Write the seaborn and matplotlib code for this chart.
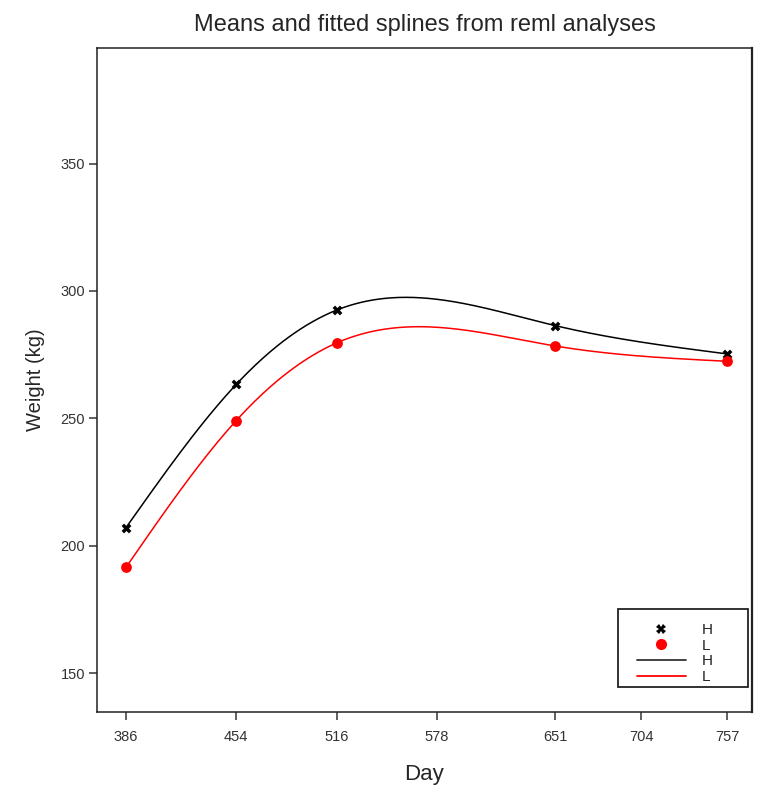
import numpy as np
import pandas as pd
import matplotlib
matplotlib.use("Agg")
import matplotlib.pyplot as plt
import seaborn as sns
from matplotlib.lines import Line2D
from matplotlib.patches import Rectangle

sns.set_style("white")
plt.rcParams["font.family"] = ["Liberation Sans", "DejaVu Sans"]

# Mean weights (kg) by day for the two groups
days = [386, 454, 516, 651, 757]
mean_h = [207.1, 263.3, 292.5, 286.4, 275.3]
mean_l = [191.5, 249.1, 279.6, 278.4, 272.4]
x_ticks = [386, 454, 516, 578, 651, 704, 757]
y_ticks = [150, 200, 250, 300, 350]


def natural_spline(x, y, xs):
    """Evaluate a natural cubic spline through (x, y) at xs."""
    x = np.asarray(x, float)
    y = np.asarray(y, float)
    n = len(x)
    h = np.diff(x)
    A = np.zeros((n, n))
    b = np.zeros(n)
    A[0, 0] = A[-1, -1] = 1.0
    for i in range(1, n - 1):
        A[i, i - 1] = h[i - 1]
        A[i, i] = 2 * (h[i - 1] + h[i])
        A[i, i + 1] = h[i]
        b[i] = 6 * ((y[i + 1] - y[i]) / h[i] - (y[i] - y[i - 1]) / h[i - 1])
    m = np.linalg.solve(A, b)
    idx = np.clip(np.searchsorted(x, xs) - 1, 0, n - 2)
    x0, x1 = x[idx], x[idx + 1]
    hh = x1 - x0
    t0, t1 = x1 - xs, xs - x0
    return (m[idx] * t0**3 / (6 * hh) + m[idx + 1] * t1**3 / (6 * hh)
            + (y[idx] / hh - m[idx] * hh / 6) * t0
            + (y[idx + 1] / hh - m[idx + 1] * hh / 6) * t1)


grid = np.linspace(days[0], days[-1], 400)
curves = pd.DataFrame({
    "Day": np.concatenate([grid, grid]),
    "Weight": np.concatenate([natural_spline(days, mean_h, grid),
                              natural_spline(days, mean_l, grid)]),
    "Group": ["H"] * len(grid) + ["L"] * len(grid),
})
means = pd.DataFrame({
    "Day": days * 2,
    "Weight": mean_h + mean_l,
    "Group": ["H"] * len(days) + ["L"] * len(days),
})

fig = plt.figure(figsize=(7.65, 7.95), dpi=100)
ax = fig.add_axes([0.1268, 0.1044, 0.8562, 0.8352])

palette = {"H": "black", "L": "#ff0000"}
sns.lineplot(data=curves, x="Day", y="Weight", hue="Group", palette=palette,
             linewidth=1.1, legend=False, ax=ax, zorder=2)
sns.scatterplot(data=means[means.Group == "H"], x="Day", y="Weight",
                color="black", marker="X", s=50, linewidth=0,
                legend=False, ax=ax, zorder=3)
sns.scatterplot(data=means[means.Group == "L"], x="Day", y="Weight",
                color="#ff0000", marker="o", s=60, linewidth=0,
                legend=False, ax=ax, zorder=3)

ax.set_xlim(368.1, 772.4)
ax.set_ylim(134.7, 395.4)
ax.set_xticks(x_ticks)
ax.set_yticks(y_ticks)
ax.tick_params(axis="both", which="both", direction="out", length=6,
               width=1.2, color="#444444", labelsize=10.5,
               labelcolor="#333333", bottom=True, left=True)
ax.tick_params(axis="x", pad=7)
ax.tick_params(axis="y", pad=2.5)
for side in ["left", "bottom", "top", "right"]:
    ax.spines[side].set_visible(True)
    ax.spines[side].set_color("#222222")
    ax.spines[side].set_linewidth(1.1)
ax.spines["right"].set_linewidth(1.6)

ax.set_xlabel("Day", fontsize=16, labelpad=14)
ax.set_ylabel("Weight (kg)", fontsize=14.5, labelpad=11)
ax.set_title("Means and fitted splines from reml analyses", fontsize=17,
             pad=12)

# legend frame drawn as its own box, entries placed inside it
ax.add_patch(Rectangle((0.795, 0.038), 0.199, 0.1175, transform=ax.transAxes,
                       facecolor="white", edgecolor="#222222", linewidth=1.3,
                       zorder=4))
handles = [
    Line2D([], [], linestyle="none", marker="X", markersize=7,
           markeredgewidth=0, color="black"),
    Line2D([], [], linestyle="none", marker="o", markersize=8,
           markeredgewidth=0, color="#ff0000"),
    Line2D([], [], color="#333333", linewidth=1.3),
    Line2D([], [], color="#ff0000", linewidth=1.3),
]
leg = ax.legend(handles, ["H", "L", "H", "L"], loc="center left",
                bbox_to_anchor=(0.8244, 0.0881), frameon=False,
                fontsize=11, handlelength=3.2, handletextpad=1.05,
                labelspacing=0.11, borderpad=0, borderaxespad=0)
leg.set_zorder(5)
for t in leg.get_texts():
    t.set_color("#222222")

fig.savefig("out.png", dpi=100, facecolor="white")
